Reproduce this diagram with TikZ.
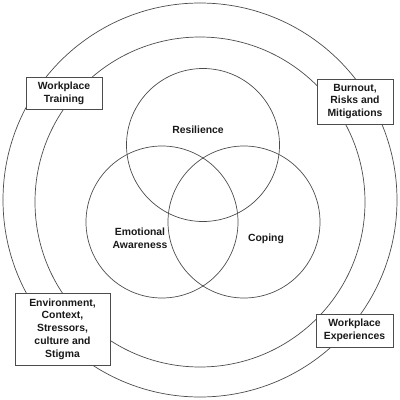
\documentclass[tikz,border=0pt]{standalone}
\usepackage{fontspec}
\setmainfont{Liberation Sans}
\begin{document}
\begin{tikzpicture}[x=1pt,y=-1pt,
  ring/.style={draw=black!70,line width=0.7pt},
  lbl/.style={font=\fontsize{10.4}{12.7}\selectfont\bfseries,align=center,text=black!90},
  tag/.style={lbl,draw=black!70,line width=0.8pt,fill=white,inner sep=0pt,minimum height=#1},
]
\useasboundingbox (0,0) rectangle (400,400);
\node[ring,circle,minimum size=394pt,inner sep=0pt] (outer) at (200,200) {};
\node[ring,circle,minimum size=330pt,inner sep=0pt] (mid) at (200,202) {};
\node[ring,circle,minimum size=153pt,inner sep=0pt] (res) at (203,145) {};
\node[ring,circle,minimum size=152pt,inner sep=0pt] (emo) at (162,222) {};
\node[ring,circle,minimum size=152pt,inner sep=0pt] (cop) at (244,222) {};
\node[lbl] (tres) at (198,130) {Resilience};
\node[lbl] (temo) at (140,238) {Emotional\\Awareness};
\node[lbl] (tcop) at (266,239) {Coping};
\node[tag=32pt,minimum width=76pt] (wt) at (64,93) {Workplace\\Training};
\node[tag=45pt,minimum width=76pt] (bo) at (355,101.5) {Burnout,\\Risks and\\Mitigations};
\node[tag=72pt,minimum width=95pt] (env) at (62.5,329) {Environment,\\Context,\\Stressors,\\culture and\\Stigma};
\node[tag=33pt,minimum width=77pt] (we) at (354.5,330.5) {Workplace\\Experiences};
\end{tikzpicture}
\end{document}
